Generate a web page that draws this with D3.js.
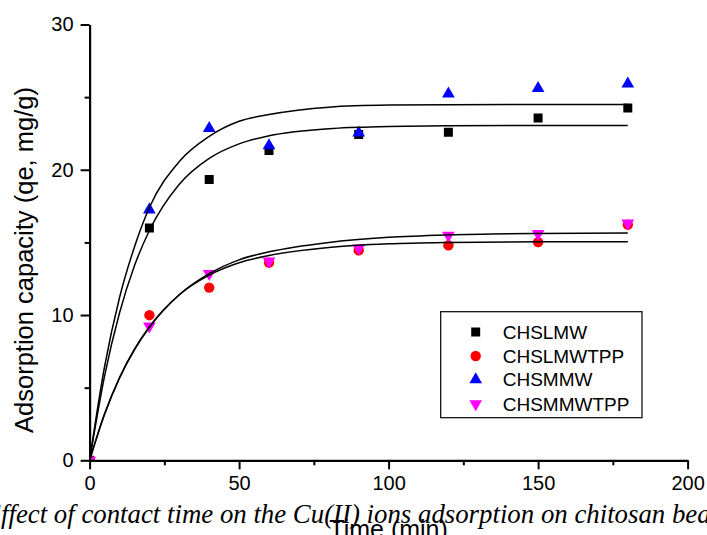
<!DOCTYPE html>
<html>
<head>
<meta charset="utf-8">
<script src="https://cdn.jsdelivr.net/npm/d3@7"></script>
<style>
  body { margin: 0; background: #fff; }
  svg { display: block; }
</style>
</head>
<body>
<div id="chart"></div>
<script>
// measured points (time in min, qe in mg/g)
const time = [0, 20, 40, 60, 90, 120, 150, 180];
const chslmw = [0, 15.99, 19.33, 21.33, 22.43, 22.58, 23.57, 24.26];
const chslmwtpp = [0, 9.99, 11.89, 13.61, 14.45, 14.8, 15.02, 16.22];
const chsmmw = [0, 17.25, 22.86, 21.67, 22.54, 25.22, 25.61, 25.91];
const chsmmwtpp = [0, 9.23, 12.85, 13.7, 14.61, 15.48, 15.6, 16.33];

// fitted curves
const fitTime = [0, 5, 10, 15, 20, 30, 40, 50, 60, 80, 100, 120, 150, 180];
const fitChslmw = [0, 5.8, 10.14, 13.39, 15.82, 19.0, 20.78, 21.78, 22.34, 22.83, 22.98, 23.03, 23.05, 23.05];
const fitChslmwtpp = [0, 3.2, 5.7, 7.65, 9.2, 11.4, 12.75, 13.6, 14.1, 14.65, 14.9, 15.0, 15.05, 15.05];
const fitChsmmw = [0, 6.44, 11.19, 14.69, 17.4, 20.57, 22.3, 23.34, 23.8, 24.31, 24.45, 24.48, 24.5, 24.5];
const fitChsmmwtpp = [0, 3.15, 5.65, 7.6, 9.15, 11.4, 12.85, 13.8, 14.35, 15.0, 15.35, 15.52, 15.62, 15.65];

const seriesNames = ['CHSLMW', 'CHSLMWTPP', 'CHSMMW', 'CHSMMWTPP'];
const xTicks = [0, 50, 100, 150, 200];
const xMinor = [25, 75, 125, 175];
const yTicks = [0, 10, 20, 30];
const yMinor = [5, 15, 25];

const captionText = 'Effect of contact time on the Cu(II) ions adsorption on chitosan beads';

const width = 707, height = 535;

const svg = d3.select('#chart')
  .append('svg')
  .attr('width', width)
  .attr('height', height);

const x = d3.scaleLinear().domain([0, 200]).range([89.6, 687.6]);
const y = d3.scaleLinear().domain([0, 30]).range([460.3, 24.5]);

svg.append('clipPath').attr('id', 'plot')
  .append('rect')
  .attr('x', x(0)).attr('y', y(30))
  .attr('width', x(200) - x(0)).attr('height', y(0) - y(30));

const styles = [
  { color: '#000000', symbol: d3.symbolSquare, size: 81, rotate: 0 },
  { color: '#ff0000', symbol: d3.symbolCircle, size: 85, rotate: 0 },
  { color: '#0000ff', symbol: d3.symbolTriangle, size: 70, rotate: 0 },
  { color: '#ff00ff', symbol: d3.symbolTriangle, size: 70, rotate: 180 }
];

const points = [chslmw, chslmwtpp, chsmmw, chsmmwtpp];
const fits = [fitChslmw, fitChslmwtpp, fitChsmmw, fitChsmmwtpp];

// markers
const markers = svg.append('g').attr('clip-path', 'url(#plot)');
points.forEach((vals, i) => {
  const st = styles[i];
  markers.append('g')
    .selectAll('path')
    .data(time.map((t, j) => ({ t: t, v: vals[j] })))
    .enter().append('path')
    .attr('d', d3.symbol().type(st.symbol).size(st.size))
    .attr('fill', st.color)
    .attr('transform', d => `translate(${x(d.t)},${y(d.v)}) rotate(${st.rotate})`);
});

// fit lines on top of the markers
const line = d3.line()
  .x(d => x(d.t))
  .y(d => y(d.v))
  .curve(d3.curveMonotoneX);

const lines = svg.append('g').attr('clip-path', 'url(#plot)');
fits.forEach(vals => {
  lines.append('path')
    .datum(fitTime.map((t, j) => ({ t: t, v: vals[j] })))
    .attr('d', line)
    .attr('fill', 'none')
    .attr('stroke', '#000')
    .attr('stroke-width', 1.5);
});

// axes
function styleAxis(g) {
  g.select('.domain').attr('stroke-width', 2.2);
  g.selectAll('.tick line').attr('stroke-width', 2);
  g.selectAll('text')
    .attr('font-family', 'Liberation Sans, Arial, sans-serif')
    .attr('font-size', 20)
    .attr('fill', '#000');
}

svg.append('g')
  .attr('transform', `translate(0,${y(0)})`)
  .call(d3.axisBottom(x).tickValues(xMinor).tickSize(5).tickSizeOuter(0).tickFormat(''))
  .call(g => g.select('.domain').remove())
  .call(g => g.selectAll('.tick line').attr('stroke-width', 2));

svg.append('g')
  .attr('transform', `translate(0,${y(0)})`)
  .call(d3.axisBottom(x).tickValues(xTicks).tickSize(9).tickPadding(7).tickSizeOuter(0).tickFormat(d3.format('d')))
  .call(styleAxis);

svg.append('g')
  .attr('transform', `translate(${x(0)},0)`)
  .call(d3.axisLeft(y).tickValues(yMinor).tickSize(5).tickSizeOuter(0).tickFormat(''))
  .call(g => g.select('.domain').remove())
  .call(g => g.selectAll('.tick line').attr('stroke-width', 2));

svg.append('g')
  .attr('transform', `translate(${x(0)},0)`)
  .call(d3.axisLeft(y).tickValues(yTicks).tickSize(9).tickPadding(7).tickSizeOuter(0).tickFormat(d3.format('d')))
  .call(styleAxis);

// axis titles
svg.append('text')
  .attr('transform', 'translate(33,260) rotate(-90)')
  .attr('text-anchor', 'middle')
  .attr('font-family', 'Liberation Sans, Arial, sans-serif')
  .attr('font-size', 25.5)
  .text('Adsorption capacity (qe, mg/g)');

svg.append('text')
  .attr('x', (x(0) + x(200)) / 2)
  .attr('y', 538)
  .attr('text-anchor', 'middle')
  .attr('font-family', 'Liberation Sans, Arial, sans-serif')
  .attr('font-size', 25)
  .text('Time (min)');

// legend
const legend = svg.append('g');
legend.append('rect')
  .attr('x', 440.7).attr('y', 311.7)
  .attr('width', 201.3).attr('height', 106)
  .attr('fill', '#fff')
  .attr('stroke', '#000')
  .attr('stroke-width', 1.2);

const rowY = [332, 356, 379.5, 404];
seriesNames.forEach((name, i) => {
  const st = styles[i];
  legend.append('path')
    .attr('d', d3.symbol().type(st.symbol).size(st.size))
    .attr('fill', st.color)
    .attr('transform', `translate(475.7,${rowY[i]}) rotate(${st.rotate})`);
  legend.append('text')
    .attr('x', 502.7)
    .attr('y', rowY[i])
    .attr('dy', '0.35em')
    .attr('font-family', 'Liberation Sans, Arial, sans-serif')
    .attr('font-size', 19)
    .text(name);
});

// figure caption, cut off by the page edges: "ffect" starts at the left
// edge and "bea" runs into the right edge, as in the scanned page
function measure(str, size) {
  const t = svg.append('text')
    .attr('font-family', 'Liberation Serif, Times New Roman, serif')
    .attr('font-style', 'italic')
    .attr('font-size', size)
    .text(str);
  const w = t.node().getComputedTextLength();
  t.remove();
  return w;
}
const visibleEnd = captionText.indexOf('beads') + 3;
const baseSize = 26;
const span = measure(captionText.slice(0, visibleEnd), baseSize) - measure('E', baseSize);
const capSize = baseSize * (width + 3) / span;

svg.append('text')
  .attr('x', -measure('E', capSize) + 1)
  .attr('y', 523)
  .attr('font-family', 'Liberation Serif, Times New Roman, serif')
  .attr('font-style', 'italic')
  .attr('font-size', capSize)
  .text(captionText);
</script>
</body>
</html>
